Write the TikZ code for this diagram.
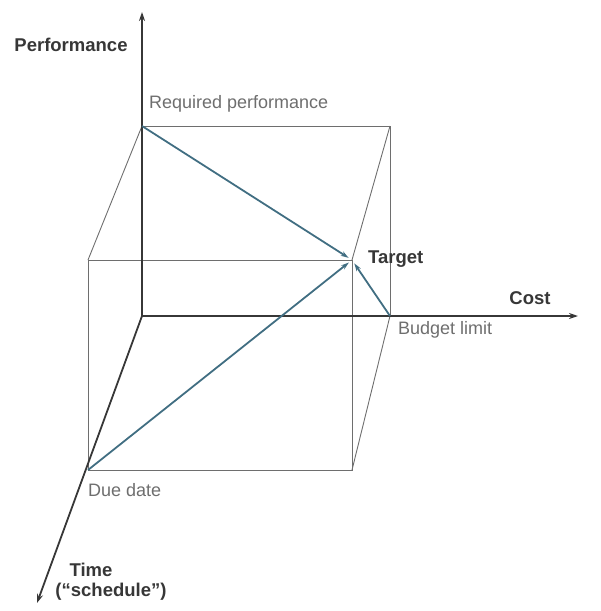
\documentclass[tikz,border=0pt]{standalone}
\usepackage{fontspec}
\setmainfont{Liberation Sans}
\usetikzlibrary{arrows.meta}
\definecolor{axisc}{RGB}{55,55,55}
\definecolor{boxc}{RGB}{110,110,110}
\definecolor{bluec}{RGB}{65,110,130}
\definecolor{labc}{RGB}{110,110,110}
\tikzset{
  axis/.style={draw=axisc, line width=1.8pt, -{Stealth[length=9pt,width=6pt]}},
  boxline/.style={draw=boxc, line width=0.9pt},
  pathline/.style={draw=bluec, line width=1.8pt, -{Stealth[length=8pt,width=5pt]}, shorten >=4pt},
  boldlab/.style={font=\fontsize{18.5}{20}\selectfont\bfseries, text=axisc, inner sep=0pt},
  graylab/.style={font=\fontsize{18}{20}\selectfont, text=labc, inner sep=0pt}
}
\begin{document}
\begin{tikzpicture}[x=1pt,y=-1pt]
\useasboundingbox (0,0) rectangle (601,611);
% points
\coordinate (O) at (142,316);
\coordinate (R) at (142,126);
\coordinate (BR) at (390,126);
\coordinate (B) at (390,316);
\coordinate (D) at (88,470);
\coordinate (FTL) at (88,260);
\coordinate (T) at (352,260);
\coordinate (FBR) at (352,470);
\coordinate (Ptip) at (142,12);
\coordinate (Ctip) at (578,316);
\coordinate (Ttip) at (37,603);
% box
\draw[boxline] (R) -- (BR) -- (B);
\draw[boxline] (FTL) rectangle (FBR);
\draw[boxline] (R) -- (FTL);
\draw[boxline] (BR) -- (T);
\draw[boxline] (B) -- (FBR);
% axes
\draw[axis] (O) -- (Ptip);
\draw[axis] (O) -- (Ctip);
\draw[axis] (O) -- (Ttip);
% paths to target
\draw[pathline] (R) -- (T);
\draw[pathline] (D) -- (T);
\draw[pathline] (B) -- (T);
% labels
\node[boldlab] (lperf) at (71,45) {Performance};
\node[graylab, anchor=west] (lreq) at (149,104) {Required performance};
\node[boldlab, anchor=west] (ltarget) at (368,259) {Target};
\node[boldlab] (lcost) at (530,298) {Cost};
\node[graylab, anchor=west] (lbudget) at (398,330) {Budget limit};
\node[graylab, anchor=west] (ldue) at (88,490) {Due date};
\node[boldlab] (ltime) at (91,570) {Time};
\node[boldlab] (lsched) at (111,592) {(“schedule”)};
\end{tikzpicture}
\end{document}
